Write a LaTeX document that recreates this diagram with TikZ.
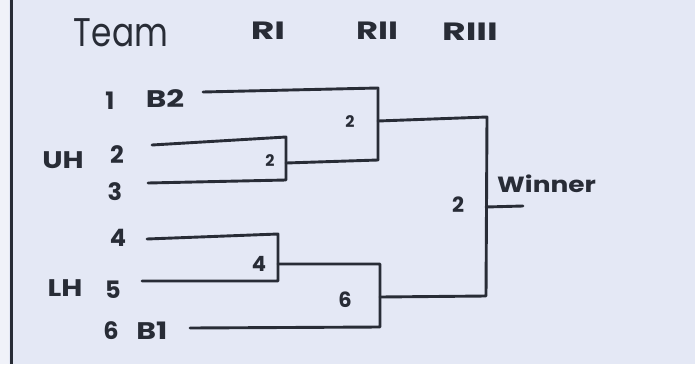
\documentclass[tikz,border=0pt]{standalone}
\usepackage{fontspec}
\setmainfont{Poppins}
\definecolor{bg}{RGB}{228,232,245}
\definecolor{edge}{RGB}{240,242,249}
\definecolor{ink}{RGB}{40,44,54}
\newcommand{\widetext}[2]{\scalebox{#1}[1]{#2}}
\begin{document}
\begin{tikzpicture}[x=1pt,y=-1pt,
  ln/.style={draw=ink,line width=2.9pt,line cap=round,line join=round},
  lbl/.style={text=ink,inner sep=0pt,font=\fontsize{24}{26}\selectfont\bfseries},
  hdr/.style={text=ink,inner sep=0pt,font=\fontsize{25}{27}\selectfont\bfseries},
  sm/.style={text=ink,inner sep=0pt,font=\fontsize{16}{18}\selectfont\bfseries},
  md/.style={text=ink,inner sep=0pt,font=\fontsize{21}{23}\selectfont\bfseries}]
\fill[bg] (0,0) rectangle (695,364);
\useasboundingbox (0,0) rectangle (695,364);
\fill[edge] (0,0) rectangle (9,364);
\draw[ink,line width=3pt] (11,0) -- (11,364);

% headers
\node[hdr,font=\fontsize{40}{42}\selectfont] (team) at (121,33) {\widetext{0.82}{Team}};
\node[hdr] (r1) at (268,31) {\widetext{1.45}{RI}};
\node[hdr] (r2) at (377,31) {\widetext{1.35}{RII}};
\node[hdr] (r3) at (470,32) {\widetext{1.45}{RIII}};

% teams
\node[lbl] (n1) at (110,101) {1};
\node[lbl] (b2) at (165,99) {\widetext{1.3}{B2}};
\node[lbl] (uh) at (63,160) {\widetext{1.2}{UH}};
\node[lbl] (n2) at (117,155) {2};
\node[lbl] (n3) at (115,192) {3};
\node[lbl] (n4) at (118,238) {4};
\node[lbl] (lh) at (65,288) {\widetext{1.2}{LH}};
\node[lbl] (n5) at (113,290) {5};
\node[lbl] (n6) at (111,331) {6};
\node[lbl] (b1) at (152,331) {\widetext{1.25}{B1}};

% coordinates
\coordinate (t1) at (203,92);
\coordinate (q1a) at (378,88);
\coordinate (q1b) at (378,160);
\coordinate (q1m) at (378,121);
\coordinate (t2) at (152,145);
\coordinate (p1a) at (286,137);
\coordinate (p1b) at (286,180);
\coordinate (p1m) at (286,163);
\coordinate (t3) at (148,183);
\coordinate (t4) at (147,239);
\coordinate (p2a) at (278,234);
\coordinate (p2b) at (278,281);
\coordinate (p2m) at (278,264);
\coordinate (t5) at (142,281);
\coordinate (q2a) at (380,264);
\coordinate (q2b) at (380,327);
\coordinate (q2m) at (380,297);
\coordinate (t6) at (190,328);
\coordinate (w1) at (487,117);
\coordinate (w2) at (486,296);
\coordinate (wm) at (486,207);
\coordinate (we) at (523,206);

% brackets
\draw[ln] (t1) -- (q1a) -- (q1b);
\draw[ln] (t2) -- (p1a) -- (p1b) -- (t3);
\draw[ln] (p1m) -- (q1b);
\draw[ln] (t4) -- (p2a) -- (p2b) -- (t5);
\draw[ln] (p2m) -- (q2a) -- (q2b) -- (t6);
\draw[ln] (q1m) -- (w1) -- (w2) -- (q2m);
\draw[ln] (wm) -- (we);

% results
\node[sm] (s1) at (270,161) {2};
\node[sm] (s2) at (350,122) {2};
\node[md] (s3) at (259,264) {4};
\node[md] (s4) at (345,300) {6};
\node[md] (s5) at (458,205) {2};
\node[md,font=\fontsize{22}{24}\selectfont\bfseries,anchor=west] (win) at (497,184) {\widetext{1.2}{Winner}};
\end{tikzpicture}
\end{document}
